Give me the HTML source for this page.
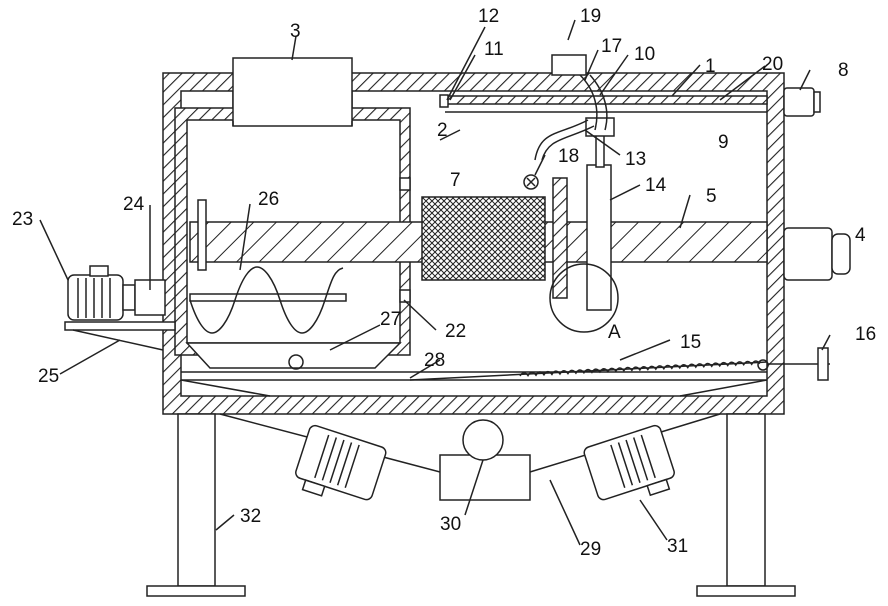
<!DOCTYPE html>
<html><head><meta charset="utf-8">
<style>
html,body{margin:0;padding:0;background:#fff;}
svg{display:block;}
text{font-family:"Liberation Sans",sans-serif;font-size:19px;fill:#111;}
</style></head>
<body>
<svg width="888" height="606" viewBox="0 0 888 606" xmlns="http://www.w3.org/2000/svg">
<defs>
<pattern id="h" width="9" height="9" patternUnits="userSpaceOnUse" patternTransform="rotate(45)">
<rect width="9" height="9" fill="#fff"/><line x1="0" y1="0" x2="0" y2="9" stroke="#222" stroke-width="2.2"/>
</pattern>
<pattern id="h2" width="16" height="16" patternUnits="userSpaceOnUse" patternTransform="rotate(45)">
<rect width="16" height="16" fill="#fff"/><line x1="0" y1="0" x2="0" y2="16" stroke="#222" stroke-width="2"/>
</pattern>
<pattern id="mesh" width="6" height="6" patternUnits="userSpaceOnUse">
<rect width="6" height="6" fill="#fff"/><path d="M0 3L3 0L6 3L3 6Z" fill="none" stroke="#222" stroke-width="1"/>
</pattern>
</defs>
<g stroke="#222" stroke-width="1.5" fill="none">
<path d="M163 73H784V414H163Z M181 91V396H767V91Z" fill="url(#h)" fill-rule="evenodd"/>
<rect x="233" y="58" width="119" height="68" fill="#fff"/>
<path d="M175 108H410V355H175Z M187 120V343H400V120Z" fill="url(#h)" fill-rule="evenodd"/>
<rect x="233" y="91" width="119" height="30" fill="#fff" stroke="none"/>
<line x1="233" y1="91" x2="233" y2="126"/><line x1="352" y1="91" x2="352" y2="126"/>
<rect x="445" y="96" width="322" height="8" fill="url(#h)"/>
<line x1="445" y1="112" x2="767" y2="112"/>
<rect x="440" y="95" width="8" height="12" fill="#fff"/>
<rect x="784" y="88" width="30" height="28" rx="3" fill="#fff"/><rect x="814" y="92" width="6" height="20" fill="#fff"/>
<rect x="190" y="222" width="577" height="40" fill="url(#h2)"/>
<rect x="198" y="200" width="8" height="70" fill="#fff"/>
<rect x="784" y="228" width="48" height="52" rx="4" fill="#fff"/><rect x="832" y="234" width="18" height="40" rx="6" fill="#fff"/>
<rect x="422" y="197" width="123" height="83" fill="url(#mesh)"/>
<rect x="553" y="178" width="14" height="120" fill="url(#h)"/>
<rect x="587" y="165" width="24" height="145" fill="#fff"/>
<rect x="596" y="135" width="8" height="32" fill="#fff"/>
<rect x="586" y="118" width="28" height="18" fill="#fff"/>
<circle cx="584" cy="298" r="34" fill="none"/>
<rect x="552" y="55" width="34" height="20" fill="#fff"/>
<path d="M580 75C595 90 600 110 595 130 M590 75C605 92 610 112 605 130"/>
<path d="M588 120C560 135 540 130 535 160M594 126C566 140 548 138 542 160"/>
<circle cx="531" cy="182" r="7"/><path d="M527 178L535 186M535 178L527 186"/>
<rect x="400" y="178" width="10" height="12" fill="#fff"/><rect x="400" y="290" width="10" height="12" fill="#fff"/>
<rect x="190" y="294" width="156" height="7" fill="#fff"/>
<path d="M190 300C197 322 205 333 212 333S228 322 235 300S250 267 257 267S273 278 280 300S295 333 302 333S318 322 325 300S335 270 343 268"/>
<path d="M187 343H400L375 368H210Z" fill="#fff"/>
<circle cx="296" cy="362" r="7"/>
<path d="M181 372H767M181 380H767" />
<path d="M410 380L767 362" />
<path d="M520 376 q4 -6 8 0 q4 -6 8 0 q4 -6 8 0 q4 -6 8 0 q4 -6 8 0 q4 -6 8 0 q4 -6 8 0 q4 -6 8 0 q4 -6 8 0 q4 -6 8 0 q4 -6 8 0 q4 -6 8 0 q4 -6 8 0 q4 -6 8 0 q4 -6 8 0 q4 -6 8 0 q4 -6 8 0 q4 -6 8 0 q4 -6 8 0 q4 -6 8 0 q4 -6 8 0 q4 -6 8 0 q4 -6 8 0 q4 -6 8 0 q4 -6 8 0 q4 -6 8 0 q4 -6 8 0 q4 -6 8 0 q4 -6 8 0 q4 -6 8 0" transform="rotate(-2.9 520 376)"/>
<circle cx="763" cy="365" r="5"/>
<path d="M181 380L270 396M767 380L680 396"/>
<line x1="767" y1="364" x2="830" y2="364"/><rect x="818" y="348" width="10" height="32" fill="#fff"/>
<rect x="65" y="322" width="110" height="8" fill="#fff"/>
<path d="M73 330L163 350"/>
<rect x="68" y="275" width="55" height="45" rx="6" fill="#fff"/>
<path d="M78 278V318M86 278V318M94 278V318M102 278V318M110 278V318"/>
<rect x="90" y="266" width="18" height="10" fill="#fff"/>
<rect x="123" y="285" width="12" height="25" fill="#fff"/><rect x="135" y="280" width="30" height="35" fill="#fff"/>
<path d="M220 414L440 472H530L720 414"/>
<rect x="440" y="455" width="90" height="45" fill="#fff"/>
<circle cx="483" cy="440" r="20" fill="#fff"/>
<g transform="rotate(18 340 465)"><rect x="300" y="435" width="80" height="55" rx="6" fill="#fff"/><path d="M320 440V485M328 440V485M336 440V485M344 440V485M352 440V485"/><rect x="312" y="490" width="20" height="10" fill="#fff"/></g>
<g transform="rotate(-18 630 465)"><rect x="590" y="435" width="80" height="55" rx="6" fill="#fff"/><path d="M618 440V485M626 440V485M634 440V485M642 440V485M650 440V485"/><rect x="640" y="490" width="20" height="10" fill="#fff"/></g>
<rect x="178" y="414" width="37" height="172" fill="#fff"/><rect x="147" y="586" width="98" height="10" fill="#fff"/>
<rect x="727" y="414" width="38" height="172" fill="#fff"/><rect x="697" y="586" width="98" height="10" fill="#fff"/>
<path d="M296 36L292 60M485 27L447 100M475 55L450 100M575 20L568 40M598 50L585 80M628 55L600 95M700 65L672 96M765 66L720 100M810 70L800 90M585 130L620 155M460 130L440 140M545 155L535 175M640 185L610 200M690 195L680 228M250 204L240 270M150 205L150 290M40 220L68 280M380 325L330 350M436 330L404 300M440 360L410 378M670 340L620 360M830 335L822 350M60 374L120 340M234 515L216 530M465 515L483 460M580 545L550 480M667 540L640 500"/>
</g>
<g>
<text x="290" y="37">3</text><text x="478" y="22">12</text><text x="484" y="55">11</text>
<text x="580" y="22">19</text><text x="601" y="52">17</text><text x="634" y="60">10</text>
<text x="705" y="72">1</text><text x="762" y="70">20</text><text x="838" y="76">8</text>
<text x="437" y="136">2</text><text x="625" y="165">13</text><text x="718" y="148">9</text>
<text x="558" y="162">18</text><text x="450" y="186">7</text><text x="645" y="191">14</text>
<text x="706" y="202">5</text><text x="855" y="241">4</text><text x="258" y="205">26</text>
<text x="123" y="210">24</text><text x="12" y="225">23</text><text x="380" y="325">27</text>
<text x="445" y="337">22</text><text x="608" y="338">A</text><text x="424" y="366">28</text>
<text x="680" y="348">15</text><text x="855" y="340">16</text><text x="38" y="382">25</text>
<text x="240" y="522">32</text><text x="440" y="530">30</text><text x="580" y="555">29</text>
<text x="667" y="552">31</text>
</g>
</svg>
</body></html>
